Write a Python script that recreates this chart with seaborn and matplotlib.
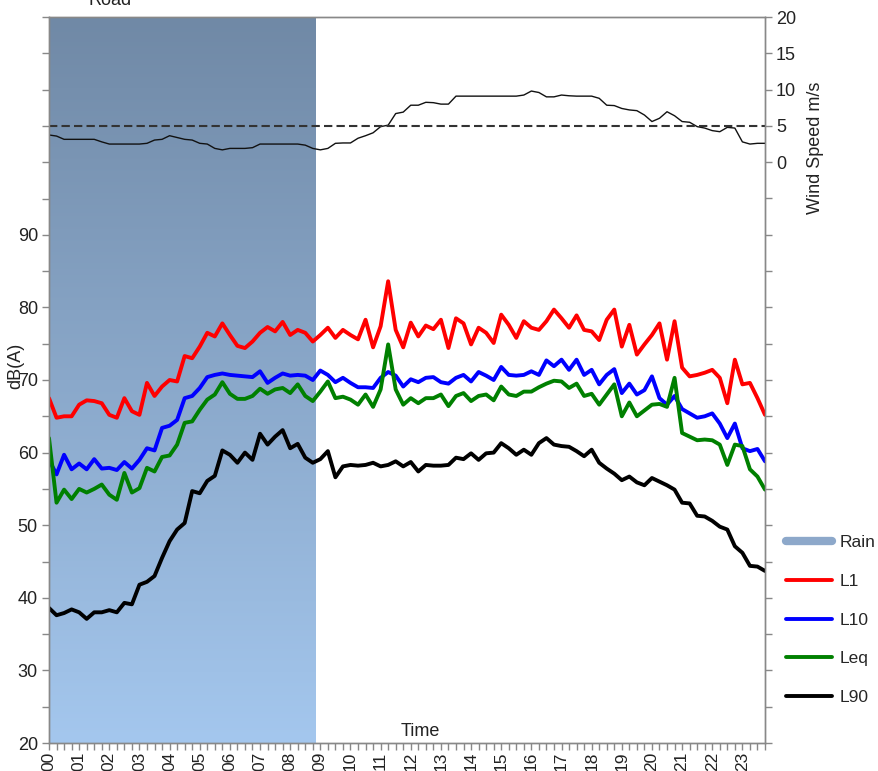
import numpy as np
import pandas as pd
import matplotlib
matplotlib.use("Agg")
import matplotlib.pyplot as plt
import seaborn as sns
from matplotlib.colors import LinearSegmentedColormap
from matplotlib.lines import Line2D

# ---------------- data (15-minute intervals, 00:00 .. 23:45) ----------------
hour_labels = [f"{h:02d}" for h in range(24)]
time_h = np.arange(96) / 4.0

L1 = [67.5, 64.8, 65.0, 65.0, 66.6, 67.2, 67.1, 66.8, 65.2, 64.8, 67.5, 65.7,
      65.2, 69.6, 67.8, 69.1, 70.0, 69.8, 73.3, 73.0, 74.6, 76.5, 76.0, 77.8,
      76.2, 74.7, 74.4, 75.3, 76.5, 77.3, 76.7, 78.0, 76.2, 76.9, 76.5, 75.3,
      76.2, 77.2, 75.8, 76.9, 76.2, 75.6, 78.3, 74.5, 77.4, 83.6, 76.9, 74.5,
      77.9, 76.0, 77.5, 77.0, 78.3, 74.4, 78.5, 77.8, 74.9, 77.2, 76.5, 75.1,
      79.0, 77.6, 75.8, 78.1, 77.2, 76.9, 78.1, 79.7, 78.5, 77.2, 78.9, 76.9,
      76.7, 75.5, 78.3, 79.7, 74.6, 77.6, 73.5, 74.9, 76.2, 77.8, 72.8, 78.1,
      71.7, 70.5, 70.7, 71.0, 71.4, 70.3, 66.8, 72.8, 69.4, 69.6, 67.5, 65.2]

L10 = [59.0, 57.0, 59.7, 57.7, 58.5, 57.7, 59.1, 57.8, 57.9, 57.6, 58.7, 57.8,
       59.0, 60.6, 60.3, 63.4, 63.7, 64.5, 67.5, 67.8, 68.9, 70.4, 70.7, 70.9,
       70.7, 70.6, 70.5, 70.4, 71.2, 69.6, 70.3, 70.9, 70.6, 70.7, 70.6, 70.0,
       71.3, 70.7, 69.7, 70.3, 69.6, 69.0, 69.0, 68.9, 70.3, 71.1, 70.6, 69.1,
       70.1, 69.7, 70.3, 70.4, 69.7, 69.5, 70.3, 70.7, 69.8, 71.1, 70.6, 70.0,
       71.8, 70.7, 70.6, 70.7, 71.2, 70.7, 72.7, 71.9, 72.8, 71.4, 72.8, 70.7,
       71.4, 69.4, 70.7, 71.5, 68.2, 69.5, 68.0, 68.6, 70.5, 67.5, 66.6, 67.8,
       66.0, 65.4, 64.8, 65.0, 65.4, 64.0, 62.0, 64.0, 60.6, 60.2, 60.5, 58.8]

Leq = [62.0, 53.1, 54.9, 53.6, 55.0, 54.5, 55.0, 55.6, 54.2, 53.5, 57.2, 54.5,
       55.1, 57.9, 57.4, 59.4, 59.6, 61.1, 64.1, 64.3, 65.9, 67.3, 68.0, 69.7,
       68.1, 67.4, 67.4, 67.8, 68.8, 68.1, 68.7, 68.9, 68.2, 69.4, 67.8, 67.1,
       68.4, 69.8, 67.5, 67.7, 67.3, 66.6, 68.0, 66.3, 68.7, 74.9, 68.7, 66.6,
       67.5, 66.8, 67.5, 67.5, 68.0, 66.4, 67.8, 68.2, 67.1, 67.8, 68.0, 67.2,
       69.1, 68.0, 67.8, 68.4, 68.4, 69.0, 69.5, 69.9, 69.8, 68.9, 69.5, 67.8,
       68.1, 66.6, 68.0, 69.4, 65.0, 66.9, 65.0, 65.8, 66.6, 66.7, 66.3, 70.3,
       62.7, 62.2, 61.7, 61.8, 61.7, 61.1, 58.3, 61.1, 60.9, 57.7, 56.7, 54.9]

L90 = [38.6, 37.6, 37.9, 38.4, 38.0, 37.1, 38.0, 38.0, 38.3, 38.0, 39.3, 39.1,
       41.8, 42.2, 43.0, 45.5, 47.8, 49.4, 50.3, 54.7, 54.4, 56.1, 56.8, 60.3,
       59.7, 58.6, 60.0, 59.0, 62.6, 61.1, 62.2, 63.1, 60.6, 61.2, 59.3, 58.6,
       59.1, 60.2, 56.6, 58.1, 58.3, 58.2, 58.3, 58.6, 58.1, 58.3, 58.8, 58.1,
       58.7, 57.4, 58.3, 58.2, 58.2, 58.3, 59.3, 59.1, 59.9, 59.0, 59.9, 60.0,
       61.3, 60.6, 59.7, 60.4, 59.7, 61.3, 62.0, 61.1, 60.9, 60.8, 60.2, 59.5,
       60.4, 58.6, 57.8, 57.1, 56.2, 56.7, 55.9, 55.5, 56.5, 56.0, 55.5, 54.9,
       53.1, 53.0, 51.3, 51.2, 50.6, 49.8, 49.4, 47.1, 46.2, 44.4, 44.3, 43.7]

wind = [3.75, 3.6, 3.15, 3.15, 3.15, 3.15, 3.15, 2.8, 2.5, 2.5, 2.5, 2.5,
        2.5, 2.6, 3.05, 3.15, 3.65, 3.4, 3.15, 3.05, 2.6, 2.5, 1.9, 1.7,
        1.9, 1.9, 1.9, 2.0, 2.5, 2.5, 2.5, 2.5, 2.5, 2.5, 2.35, 1.9,
        1.7, 1.9, 2.6, 2.65, 2.65, 3.3, 3.65, 4.05, 4.9, 5.1, 6.7, 6.9,
        7.85, 7.85, 8.25, 8.2, 8.0, 8.0, 9.1, 9.1, 9.1, 9.1, 9.1, 9.1,
        9.1, 9.1, 9.1, 9.25, 9.8, 9.6, 9.0, 9.0, 9.25, 9.15, 9.1, 9.1,
        9.1, 8.8, 7.85, 7.8, 7.4, 7.2, 7.1, 6.5, 5.6, 6.05, 6.95, 6.4,
        5.6, 5.5, 4.9, 4.7, 4.35, 4.2, 4.8, 4.7, 2.8, 2.5, 2.6, 2.6]

wind_threshold = 5.0
rain_period = (0.0, 8.85)   # hours with rain

series = {"L1": L1, "L10": L10, "Leq": Leq, "L90": L90}
colors = {"L1": "#ff0000", "L10": "#0000ff", "Leq": "#008000", "L90": "#000000"}

df = pd.DataFrame({"time": np.tile(time_h, 4),
                   "level": np.concatenate([series[k] for k in series]),
                   "metric": np.repeat(list(series.keys()), len(time_h))})

# ---------------- figure ----------------
sns.set_theme(style="white")
plt.rcParams["font.family"] = ["Liberation Sans", "DejaVu Sans"]

fig = plt.figure(figsize=(8.79, 7.71), dpi=100)
ax = fig.add_axes([49 / 879, 28 / 771, 716 / 879, 726 / 771])
ax2 = ax.twinx()

# rain shading (gradient)
cmap = LinearSegmentedColormap.from_list("rain", ["#a4c7ee", "#7089a6"])
grad = np.linspace(0, 1, 256).reshape(-1, 1)
ax.imshow(grad, cmap=cmap, extent=[rain_period[0], rain_period[1], 20, 120],
          aspect="auto", origin="lower", zorder=0)

sns.lineplot(data=df, x="time", y="level", hue="metric", palette=colors,
             hue_order=list(series.keys()), linewidth=2.8, ax=ax, legend=False,
             zorder=3)
for ln in ax.get_lines():
    ln.set_solid_joinstyle("round")
    ln.set_solid_capstyle("round")

sns.lineplot(x=time_h, y=wind, ax=ax2, color="#111111", linewidth=1.0)
ax2.axhline(wind_threshold, color="#333333", lw=1.5, ls=(0, (4, 2)))

ax.set_xlim(0, 23.75)
ax.set_ylim(20, 120)
ax2.set_ylim(-80, 20)

grey = "#888888"
for a in (ax, ax2):
    for s in a.spines.values():
        s.set_color(grey)
        s.set_linewidth(1.0)

yt = np.arange(20, 121, 5)
ax.set_yticks(yt)
ax.set_yticklabels([str(v) if (v % 10 == 0 and v <= 90) else "" for v in yt])
yt2 = np.arange(-80, 21, 5)
ax2.set_yticks(yt2)
ax2.set_yticklabels([str(v) if v >= 0 else "" for v in yt2])

ax.set_xticks(range(24))
ax.set_xticklabels(hour_labels, rotation=90)
ax.set_xticks(np.arange(0, 23.76, 0.25), minor=True)

ax.tick_params(axis="x", which="both", bottom=True, direction="out", length=5,
               width=1, color=grey, labelsize=12.5, pad=1, labelcolor="#222222")
ax.tick_params(axis="y", left=True, direction="out", length=5, width=1,
               color=grey, labelsize=13, pad=3, labelcolor="#222222")
ax2.tick_params(axis="y", right=True, direction="out", length=5, width=1,
                color=grey, labelsize=13, pad=3, labelcolor="#222222")

ax.set_ylabel("dB(A)", fontsize=13, color="#222222")
ax.yaxis.set_label_coords(-0.035, 0.519)
ax.set_xlabel("Time", fontsize=13, color="#222222")
ax.xaxis.set_label_coords(0.518, 0.0275)
ax2.set_ylabel("Wind Speed m/s", fontsize=13, color="#222222")
ax2.yaxis.set_label_coords(1.058, 0.8196)

fig.text(110 / 879, 1 - 5 / 771, "Road", ha="center", va="baseline",
         fontsize=13, color="#222222")

handles = [Line2D([], [], color="#8da8ca", lw=6)] + \
          [Line2D([], [], color=colors[k], lw=2.8) for k in series]
fig.legend(handles, ["Rain"] + list(series.keys()), loc="upper left",
           bbox_to_anchor=(779 / 879, 1 - 528 / 771), frameon=False,
           fontsize=12.5, handlelength=2.65, handletextpad=0.45,
           labelspacing=1.36, borderaxespad=0)

fig.savefig("out.png", dpi=100)
